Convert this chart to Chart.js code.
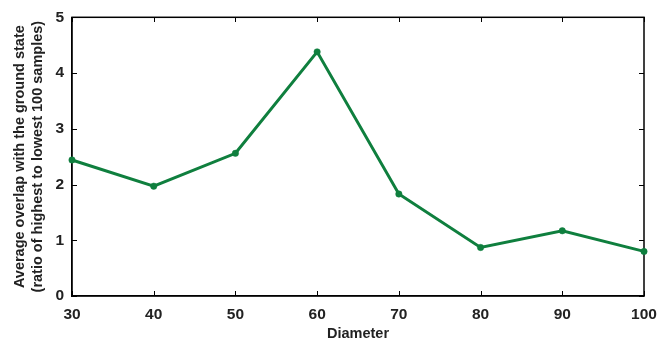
<!DOCTYPE html>
<html>
<head>
<meta charset="utf-8">
<script src="https://cdn.jsdelivr.net/npm/chart.js@4"></script>
<style>
  html, body { margin: 0; padding: 0; background: #fff; }
  #wrap { width: 657px; height: 341px; }
</style>
</head>
<body>
<div id="wrap"><canvas id="myChart"></canvas></div>
<script>
const diameters = [30, 40, 50, 60, 70, 80, 90, 100];
const overlap = [2.44, 1.97, 2.56, 4.38, 1.83, 0.87, 1.17, 0.80];
const xTicks = [30, 40, 50, 60, 70, 80, 90, 100];
const yTicks = [0, 1, 2, 3, 4, 5];

const green = '#0f7f3e';
const font = { family: "'Liberation Sans', Arial, sans-serif", weight: 'bold' };

// frame on top and right, plus small inward ticks on every side
const inTicks = {
    id: 'inTicks',
    beforeDatasetsDraw(chart) {
        const ctx = chart.ctx;
        const a = chart.chartArea;
        ctx.save();
        ctx.strokeStyle = '#000';
        ctx.lineWidth = 1.5;
        ctx.strokeRect(a.left, a.top, a.right - a.left, a.bottom - a.top);
        ctx.restore();
    },
    afterDraw(chart) {
        const ctx = chart.ctx;
        const a = chart.chartArea;
        const xs = chart.scales.x, ys = chart.scales.y;
        const len = 5;
        const L = Math.round(a.left), R = Math.round(a.right);
        const T = Math.round(a.top), B = Math.round(a.bottom);
        ctx.save();
        ctx.strokeStyle = '#000';
        ctx.lineWidth = 1;
        ctx.beginPath();
        for (const v of xTicks) {
            const px = Math.round(xs.getPixelForValue(v)) + 0.5;
            ctx.moveTo(px, B); ctx.lineTo(px, B - len);
            ctx.moveTo(px, T); ctx.lineTo(px, T + len);
        }
        for (const v of yTicks) {
            const py = Math.round(ys.getPixelForValue(v)) + 0.5;
            ctx.moveTo(L, py); ctx.lineTo(L + len, py);
            ctx.moveTo(R, py); ctx.lineTo(R - len, py);
        }
        ctx.stroke();
        ctx.restore();
    }
};

const data = {
    datasets: [{
        data: diameters.map((d, i) => ({ x: d, y: overlap[i] })),
        borderColor: green,
        backgroundColor: green,
        borderWidth: 3,
        pointRadius: 3.2,
        pointBorderWidth: 0.5,
        pointHoverRadius: 3.2,
        tension: 0,
        clip: false,
    }]
};

const config = {
    type: 'line',
    data: data,
    options: {
        responsive: true,
        maintainAspectRatio: false,
        animation: false,
        layout: { padding: { top: 17, right: 0, left: 0, bottom: 0 } },
        plugins: {
            legend: { display: false },
            tooltip: { enabled: false },
        },
        scales: {
            x: {
                type: 'linear',
                min: 30,
                max: 100,
                afterFit: s => { s.height = 45; s.paddingRight = 13; s.paddingLeft = 0; },
                afterBuildTicks: s => { s.ticks = xTicks.map(v => ({ value: v })); },
                grid: { display: true, drawOnChartArea: false, drawTicks: false, tickLength: 0 },
                border: { display: true, color: '#000', width: 1.2 },
                ticks: { color: '#222', font: { ...font, size: 15.5 }, padding: 9, maxRotation: 0 },
                title: {
                    display: true, text: 'Diameter', color: '#222',
                    font: { ...font, size: 14.5, lineHeight: '14px' }, padding: { top: 0, bottom: 0 }
                }
            },
            y: {
                min: 0,
                max: 5,
                afterFit: s => { s.width = 72; },
                afterBuildTicks: s => { s.ticks = yTicks.map(v => ({ value: v })); },
                grid: { display: true, drawOnChartArea: false, drawTicks: false, tickLength: 0 },
                border: { display: true, color: '#000', width: 1.2 },
                ticks: { color: '#222', font: { ...font, size: 15.5 }, padding: 8 },
                title: {
                    display: true,
                    text: ['Average overlap with the ground state', '(ratio of highest to lowest 100 samples)'],
                    color: '#222',
                    font: { ...font, size: 14.5, lineHeight: '18px' },
                    padding: { top: 11, bottom: 0 }
                }
            }
        }
    },
    plugins: [inTicks]
};

const myChart = new Chart(document.getElementById('myChart'), config);
</script>
</body>
</html>
